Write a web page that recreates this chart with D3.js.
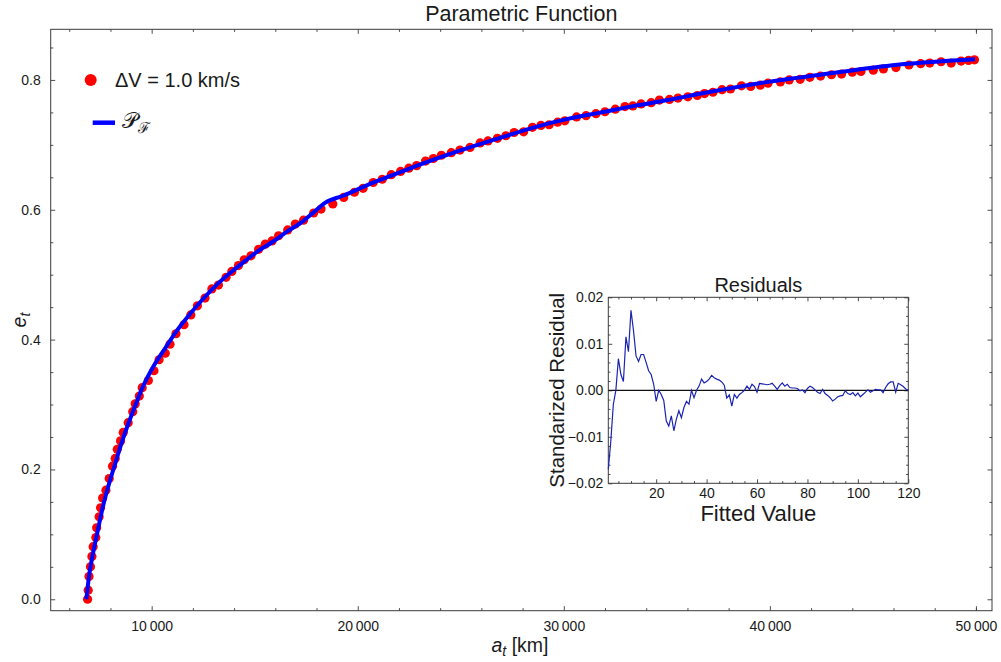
<!DOCTYPE html>
<html>
<head>
<meta charset="utf-8">
<script src="https://cdn.jsdelivr.net/npm/d3@7"></script>
<style>
  body { margin: 0; background: #ffffff; }
  svg text { font-family: 'Liberation Sans', Arial, sans-serif; fill: #1a1a1a; }
</style>
</head>
<body>
<script>
// Transfer orbit samples: semi-major axis a_t [km] and eccentricity e_t.
const semiMajorAxis = [
  6890, 6920, 6960, 7030, 7100, 7160, 7290, 7330, 7450, 7520,
  7620, 7780, 7940, 8100, 8230, 8330, 8490, 8620, 8860, 9080,
  9200, 9400, 9540, 9840, 10110, 10360, 10660, 10890, 11180, 11570,
  11900, 12220, 12590, 12920, 13240, 13610, 13890, 14210, 14490, 14820,
  15190, 15510, 15840, 16160, 16600, 16970, 17370, 17860, 18220, 18790,
  19320, 19840, 20260, 20750, 21190, 21630, 22080, 22480, 22860, 23290,
  23670, 24060, 24540, 24960, 25450, 25940, 26320, 26780, 27190, 27590,
  28050, 28480, 28890, 29290, 29700, 30050, 30620, 31080, 31560, 32000,
  32500, 32970, 33350, 33750, 34240, 34640, 35130, 35540, 36020, 36480,
  36830, 37240, 37680, 38090, 38620, 39070, 39540, 39910, 40510, 40940,
  41470, 41940, 42460, 42990, 43480, 44000, 44420, 45020, 45510, 46120,
  46750, 47320, 47760, 48310, 48800, 49280, 49640, 49930
];
const eccentricity = [
  0.000, 0.014, 0.035, 0.050, 0.066, 0.081, 0.095, 0.110, 0.127, 0.141,
  0.156, 0.168, 0.186, 0.205, 0.217, 0.231, 0.244, 0.257, 0.272, 0.289,
  0.301, 0.313, 0.326, 0.337, 0.352, 0.369, 0.379, 0.393, 0.409, 0.423,
  0.438, 0.452, 0.464, 0.478, 0.484, 0.496, 0.505, 0.514, 0.523, 0.529,
  0.539, 0.547, 0.552, 0.560, 0.569, 0.578, 0.584, 0.595, 0.601, 0.609,
  0.619, 0.627, 0.633, 0.642, 0.647, 0.654, 0.659, 0.664, 0.668, 0.675,
  0.679, 0.684, 0.688, 0.692, 0.696, 0.703, 0.706, 0.710, 0.714, 0.719,
  0.720, 0.727, 0.730, 0.731, 0.735, 0.737, 0.743, 0.745, 0.748, 0.751,
  0.755, 0.759, 0.760, 0.763, 0.765, 0.769, 0.770, 0.772, 0.774, 0.776,
  0.779, 0.781, 0.785, 0.786, 0.791, 0.790, 0.792, 0.795, 0.797, 0.800,
  0.801, 0.804, 0.806, 0.808, 0.809, 0.812, 0.813, 0.815, 0.817, 0.819,
  0.823, 0.825, 0.826, 0.828, 0.826, 0.829, 0.830, 0.831
];

// Fitted parametric function P_F.
const fitA = [6830, 6890, 6960, 7100, 7290, 7450, 7620, 7780, 7940, 8230,
  8490, 8860, 9200, 9540, 10110, 10660, 11180, 11900, 12590, 13240,
  13890, 14490, 15190, 15840, 16600, 17370, 17860, 18430, 19320, 20460,
  21750, 23050, 25320, 26940, 28560, 30190, 31810, 33430, 35050, 36670,
  39910, 43150, 46400, 49960];
const fitE = [0.000, 0.017, 0.036, 0.062, 0.092, 0.116, 0.141, 0.161, 0.179, 0.209,
  0.236, 0.270, 0.298, 0.325, 0.360, 0.387, 0.412, 0.441, 0.466, 0.487,
  0.505, 0.520, 0.537, 0.550, 0.567, 0.583, 0.596, 0.611, 0.622, 0.638,
  0.654, 0.670, 0.695, 0.711, 0.727, 0.740, 0.750, 0.760, 0.769, 0.779,
  0.797, 0.811, 0.824, 0.832];

// Standardized residuals, one per fitted value 1..120.
const residuals = [
  -0.0170, -0.0109, -0.0030, 0.0000, 0.0068, 0.0034, 0.0019, 0.0115, 0.0083, 0.0172,
  0.0128, 0.0074, 0.0062, 0.0077, 0.0077, 0.0060, 0.0042, 0.0034, 0.0013, -0.0024,
  0.0000, -0.0009, -0.0022, -0.0066, -0.0077, -0.0055, -0.0087, -0.0062, -0.0044, -0.0059,
  -0.0037, -0.0024, -0.0030, 0.0000, -0.0016, 0.0000, 0.0009, 0.0024, 0.0016, 0.0019,
  0.0024, 0.0032, 0.0027, 0.0024, 0.0022, 0.0018, 0.0011, -0.0017, -0.0010, -0.0034,
  -0.0009, -0.0017, -0.0009, -0.0005, 0.0000, 0.0009, 0.0002, 0.0013, 0.0008, -0.0004,
  0.0015, 0.0014, 0.0013, 0.0012, 0.0013, 0.0015, 0.0009, 0.0002, 0.0010, 0.0016,
  0.0009, 0.0013, 0.0006, 0.0005, 0.0005, 0.0004, -0.0001, 0.0001, -0.0005, 0.0004,
  0.0009, 0.0006, 0.0001, -0.0004, -0.0007, 0.0002, -0.0007, -0.0011, -0.0016, -0.0023,
  -0.0019, -0.0014, -0.0012, -0.0011, -0.0001, -0.0007, -0.0009, -0.0005, -0.0012, -0.0006,
  -0.0014, -0.0009, -0.0004, 0.0001, -0.0004, -0.0001, 0.0002, 0.0001, 0.0001, -0.0005,
  0.0006, 0.0014, 0.0018, 0.0018, -0.0004, 0.0015, 0.0012, 0.0008, 0.0003, 0.0000
];

// Tick values.
const xMajorTicks = [10000, 20000, 30000, 40000, 50000];
const xMinorTicks = [6000, 8000, 12000, 14000, 16000, 18000, 22000, 24000, 26000, 28000,
  32000, 34000, 36000, 38000, 42000, 44000, 46000, 48000, 50000];
const yMajorTicks = [0, 0.2, 0.4, 0.6, 0.8];
const yMinorTicks = [0.05, 0.1, 0.15, 0.25, 0.3, 0.35, 0.45, 0.5, 0.55, 0.65, 0.7, 0.75, 0.85];
const resXMajorTicks = [20, 40, 60, 80, 100, 120];
const resXMinorTicks = [5, 10, 15, 25, 30, 35, 45, 50, 55, 65, 70, 75, 85, 90, 95, 105, 110, 115];
const resYMajorTicks = [-0.02, -0.01, 0, 0.01, 0.02];
const resYMinorTicks = [-0.018, -0.016, -0.014, -0.012, -0.008, -0.006, -0.004, -0.002,
  0.002, 0.004, 0.006, 0.008, 0.012, 0.014, 0.016, 0.018];

// Layout.
const frame = {left: 50.7, right: 992, top: 29.3, bottom: 610.7};
const inset = {left: 608.3, right: 908.3, top: 297.3, bottom: 483.3};
const frameColor = '#3a3a3a';

const svg = d3.select('body')
      .append('svg')
      .attr('width', 1001)
      .attr('height', 662)
      .style('background-color', '#ffffff');

const x = d3.scaleLinear().domain([5100, 50780]).range([frame.left, frame.right]);
const y = d3.scaleLinear().domain([-0.0176, 0.878]).range([frame.bottom, frame.top]);

const thinFormat = (v) => d3.format(',')(v).replace(',', '\u2009');

// Draws a Mathematica style frame with inward ticks on all four sides.
function drawFrame(g, xs, ys, box, o)
{
  const sides = [
    {axis: d3.axisBottom(xs), t: `translate(0,${box.bottom})`, major: o.xMajor, minor: o.xMinor, fmt: o.xFormat},
    {axis: d3.axisTop(xs), t: `translate(0,${box.top})`, major: o.xMajor, minor: o.xMinor, fmt: null},
    {axis: d3.axisLeft(ys), t: `translate(${box.left},0)`, major: o.yMajor, minor: o.yMinor, fmt: o.yFormat},
    {axis: d3.axisRight(ys), t: `translate(${box.right},0)`, major: o.yMajor, minor: o.yMinor, fmt: null}
  ];
  sides.forEach((s) =>
  {
    const gMinor = g.append('g').attr('transform', s.t)
          .call(s.axis.tickValues(s.minor).tickSize(-o.minorLen).tickFormat(''));
    gMinor.select('.domain').remove();
    const gMajor = g.append('g').attr('transform', s.t)
          .call(s.axis.tickValues(s.major).tickSize(-o.majorLen).tickPadding(o.pad)
                .tickFormat(s.fmt ? s.fmt : ''));
    gMajor.select('.domain').remove();
    g.selectAll('.tick line').attr('stroke', frameColor).attr('stroke-width', 0.9);
    gMajor.selectAll('text')
      .style('font-size', o.fontSize + 'px')
      .style('font-family', "'Liberation Sans', Arial, sans-serif")
      .attr('fill', '#1a1a1a');
  });
  g.append('rect')
    .attr('x', box.left).attr('y', box.top)
    .attr('width', box.right - box.left).attr('height', box.bottom - box.top)
    .attr('fill', 'none').attr('stroke', frameColor).attr('stroke-width', 1);
}

// Main plot.
const mainAxes = svg.append('g');
drawFrame(mainAxes, x, y, frame, {
  xMajor: xMajorTicks, xMinor: xMinorTicks, yMajor: yMajorTicks, yMinor: yMinorTicks,
  xFormat: thinFormat, yFormat: d3.format('.1f'),
  majorLen: 4.5, minorLen: 2.6, pad: 10, fontSize: 14
});

const points = semiMajorAxis.map((a, i) => ({a: a, e: eccentricity[i]}));
svg.append('g')
  .selectAll('circle')
  .data(points)
  .enter()
  .append('circle')
  .attr('cx', (d) => x(d.a))
  .attr('cy', (d) => y(d.e))
  .attr('r', 4.6)
  .attr('fill', '#ff0000');

const fitPoints = fitA.map((a, i) => ({a: a, e: fitE[i]}));
svg.append('path')
  .datum(fitPoints)
  .attr('d', d3.line().x((d) => x(d.a)).y((d) => y(d.e)).curve(d3.curveMonotoneX))
  .attr('fill', 'none')
  .attr('stroke', '#0000ff')
  .attr('stroke-width', 4)
  .attr('stroke-linecap', 'butt');

// Title and axis labels.
svg.append('text')
  .attr('x', (frame.left + frame.right) / 2)
  .attr('y', 21)
  .attr('text-anchor', 'middle')
  .style('font-size', '21.5px')
  .text('Parametric Function');

svg.append('text')
  .attr('x', 520)
  .attr('y', 652)
  .attr('text-anchor', 'middle')
  .style('font-size', '19.5px')
  .html('<tspan font-style="italic">a</tspan><tspan font-style="italic" font-size="14" dy="4">t</tspan><tspan dy="-4"> [km]</tspan>');

svg.append('text')
  .attr('transform', 'translate(26,' + ((frame.top + frame.bottom) / 2) + ') rotate(-90)')
  .attr('text-anchor', 'middle')
  .style('font-size', '19.5px')
  .html('<tspan font-style="italic">e</tspan><tspan font-style="italic" font-size="14" dy="4">t</tspan>');

// Legend.
svg.append('circle').attr('cx', 90.7).attr('cy', 80).attr('r', 6).attr('fill', '#ff0000');
svg.append('text')
  .attr('x', 115)
  .attr('y', 87)
  .style('font-size', '20px')
  .text('\u0394V = 1.0 km/s');
svg.append('line')
  .attr('x1', 92.7).attr('x2', 115).attr('y1', 122.7).attr('y2', 122.7)
  .attr('stroke', '#0000ff').attr('stroke-width', 4.5);
svg.append('text')
  .attr('x', 122)
  .attr('y', 128)
  .style('font-size', '22px')
  .html('<tspan>\uD835\uDCAB</tspan><tspan font-size="15" dy="5">\u2131</tspan>');

// Inset: residuals.
const rx = d3.scaleLinear().domain([1, 120]).range([inset.left, inset.right]);
const ry = d3.scaleLinear().domain([-0.02, 0.02]).range([inset.bottom, inset.top]);

svg.append('rect')
  .attr('x', inset.left).attr('y', inset.top)
  .attr('width', inset.right - inset.left).attr('height', inset.bottom - inset.top)
  .attr('fill', '#ffffff');

const insetAxes = svg.append('g');
drawFrame(insetAxes, rx, ry, inset, {
  xMajor: resXMajorTicks, xMinor: resXMinorTicks, yMajor: resYMajorTicks, yMinor: resYMinorTicks,
  xFormat: d3.format('d'), yFormat: d3.format('.2f'),
  majorLen: 4, minorLen: 2.2, pad: 5, fontSize: 14
});

svg.append('line')
  .attr('x1', inset.left).attr('x2', inset.right)
  .attr('y1', ry(0)).attr('y2', ry(0))
  .attr('stroke', '#111111').attr('stroke-width', 1.2);

svg.append('path')
  .datum(residuals)
  .attr('d', d3.line().x((d, i) => rx(i + 1)).y((d) => ry(d)))
  .attr('fill', 'none')
  .attr('stroke', '#1a24b0')
  .attr('stroke-width', 1.2);

svg.append('text')
  .attr('x', (inset.left + inset.right) / 2)
  .attr('y', 292)
  .attr('text-anchor', 'middle')
  .style('font-size', '20px')
  .text('Residuals');

svg.append('text')
  .attr('x', (inset.left + inset.right) / 2)
  .attr('y', 521)
  .attr('text-anchor', 'middle')
  .style('font-size', '22px')
  .text('Fitted Value');

svg.append('text')
  .attr('transform', 'translate(564,' + ((inset.top + inset.bottom) / 2) + ') rotate(-90)')
  .attr('text-anchor', 'middle')
  .style('font-size', '20.5px')
  .text('Standarized Residual');
</script>
</body>
</html>
